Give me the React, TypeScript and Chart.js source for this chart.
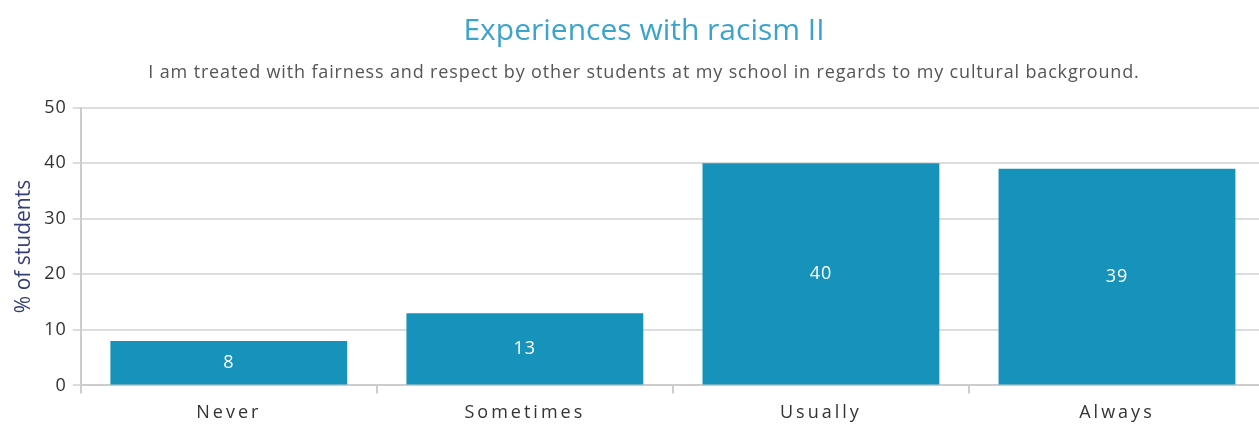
import React, { useEffect, useRef } from "react";
import { Chart, registerables } from "chart.js";

Chart.register(...registerables);

const categories = ["Never", "Sometimes", "Usually", "Always"];
const values = [8, 13, 40, 39];
const titleText = "Experiences with racism II";
const subtitleText =
  "I am treated with fairness and respect by other students at my school in regards to my cultural background.";
const yAxisTitle = "% of students";

const letterSpacingPlugin = {
  id: "letterSpacing",
  beforeDraw(chart: any) {
    const ctx: any = chart.ctx;
    if (ctx.__patched) return;
    ctx.__patched = true;
    const orig = ctx.fillText;
    ctx.fillText = function (text: string, x: number, y: number, mw?: number) {
      let sp = "0px";
      if (categories.includes(text)) sp = "3px";
      else if (text === subtitleText) sp = "0.85px";
      else if (/^\d+$/.test(String(text))) sp = "1px";
      const prev = this.letterSpacing;
      this.letterSpacing = sp;
      if (mw === undefined) orig.call(this, text, x, y);
      else orig.call(this, text, x, y, mw);
      this.letterSpacing = prev;
    };
  },
};

const barLabels = {
  id: "barLabels",
  afterDatasetsDraw(chart: any) {
    const ctx = chart.ctx;
    const meta = chart.getDatasetMeta(0);
    ctx.save();
    ctx.fillStyle = "#ffffff";
    ctx.font = "18px 'Open Sans'";
    ctx.textAlign = "center";
    ctx.textBaseline = "middle";
    meta.data.forEach((bar: any, i: number) => {
      const v = chart.data.datasets[0].data[i];
      const y = (bar.y + bar.base) / 2;
      ctx.fillText(String(v), bar.x, y);
    });
    ctx.restore();
  },
};

export default function App() {
  const ref = useRef<HTMLCanvasElement>(null);
  useEffect(() => {
    document.documentElement.style.overflow = "hidden";
    document.body.style.margin = "0";
    document.body.style.overflow = "hidden";
    const chart = new Chart(ref.current!, {
      type: "bar",
      data: {
        labels: categories,
        datasets: [
          {
            data: values,
            backgroundColor: "#1692bb",
            borderWidth: 0,
            barPercentage: 0.8,
            categoryPercentage: 1,
          },
        ],
      },
      plugins: [letterSpacingPlugin, barLabels],
      options: {
        animation: false,
        responsive: true,
        maintainAspectRatio: false,
        layout: { padding: { left: 11, right: 11, top: 0, bottom: -5 } },
        plugins: {
          legend: { display: false },
          tooltip: { enabled: false },
          title: {
            display: true,
            text: titleText,
            color: "#3ba3cc",
            font: { family: "'Open Sans'", size: 30, weight: "normal" },
            padding: { top: 13, bottom: 6 },
          },
          subtitle: {
            display: true,
            text: subtitleText,
            color: "#555555",
            font: { family: "'Open Sans'", size: 18, weight: "normal" },
            padding: { top: 7, bottom: 24 },
          },
        },
        scales: {
          x: {
            afterFit(scale: any) {
              scale.paddingRight = 23;
            },
            grid: {
              display: true,
              drawOnChartArea: false,
              drawTicks: true,
              tickLength: 8,
              color: "#cccccc",
              lineWidth: 2,
              offset: true,
            },
            border: { display: true, color: "#cccccc", width: 2 },
            ticks: {
              color: "#333333",
              font: { family: "'Open Sans'", size: 18 },
              padding: 9,
            },
          },
          y: {
            min: 0,
            max: 50,
            grid: {
              color: "#dddddd",
              lineWidth: 2,
              tickLength: 8,
              drawTicks: true,
            },
            border: { display: true, color: "#cccccc", width: 2 },
            ticks: {
              stepSize: 10,
              color: "#333333",
              font: { family: "'Open Sans'", size: 18 },
              padding: 6,
            },
            title: {
              display: true,
              text: yAxisTitle,
              color: "#353d7a",
              font: { family: "'Open Sans'", size: 21 },
              padding: { top: 0, bottom: 4 },
            },
          },
        },
      },
    });
    return () => chart.destroy();
  }, []);
  return (
    <div style={{ width: 1288, height: 428, position: "relative" }}>
      <canvas ref={ref} />
    </div>
  );
}
